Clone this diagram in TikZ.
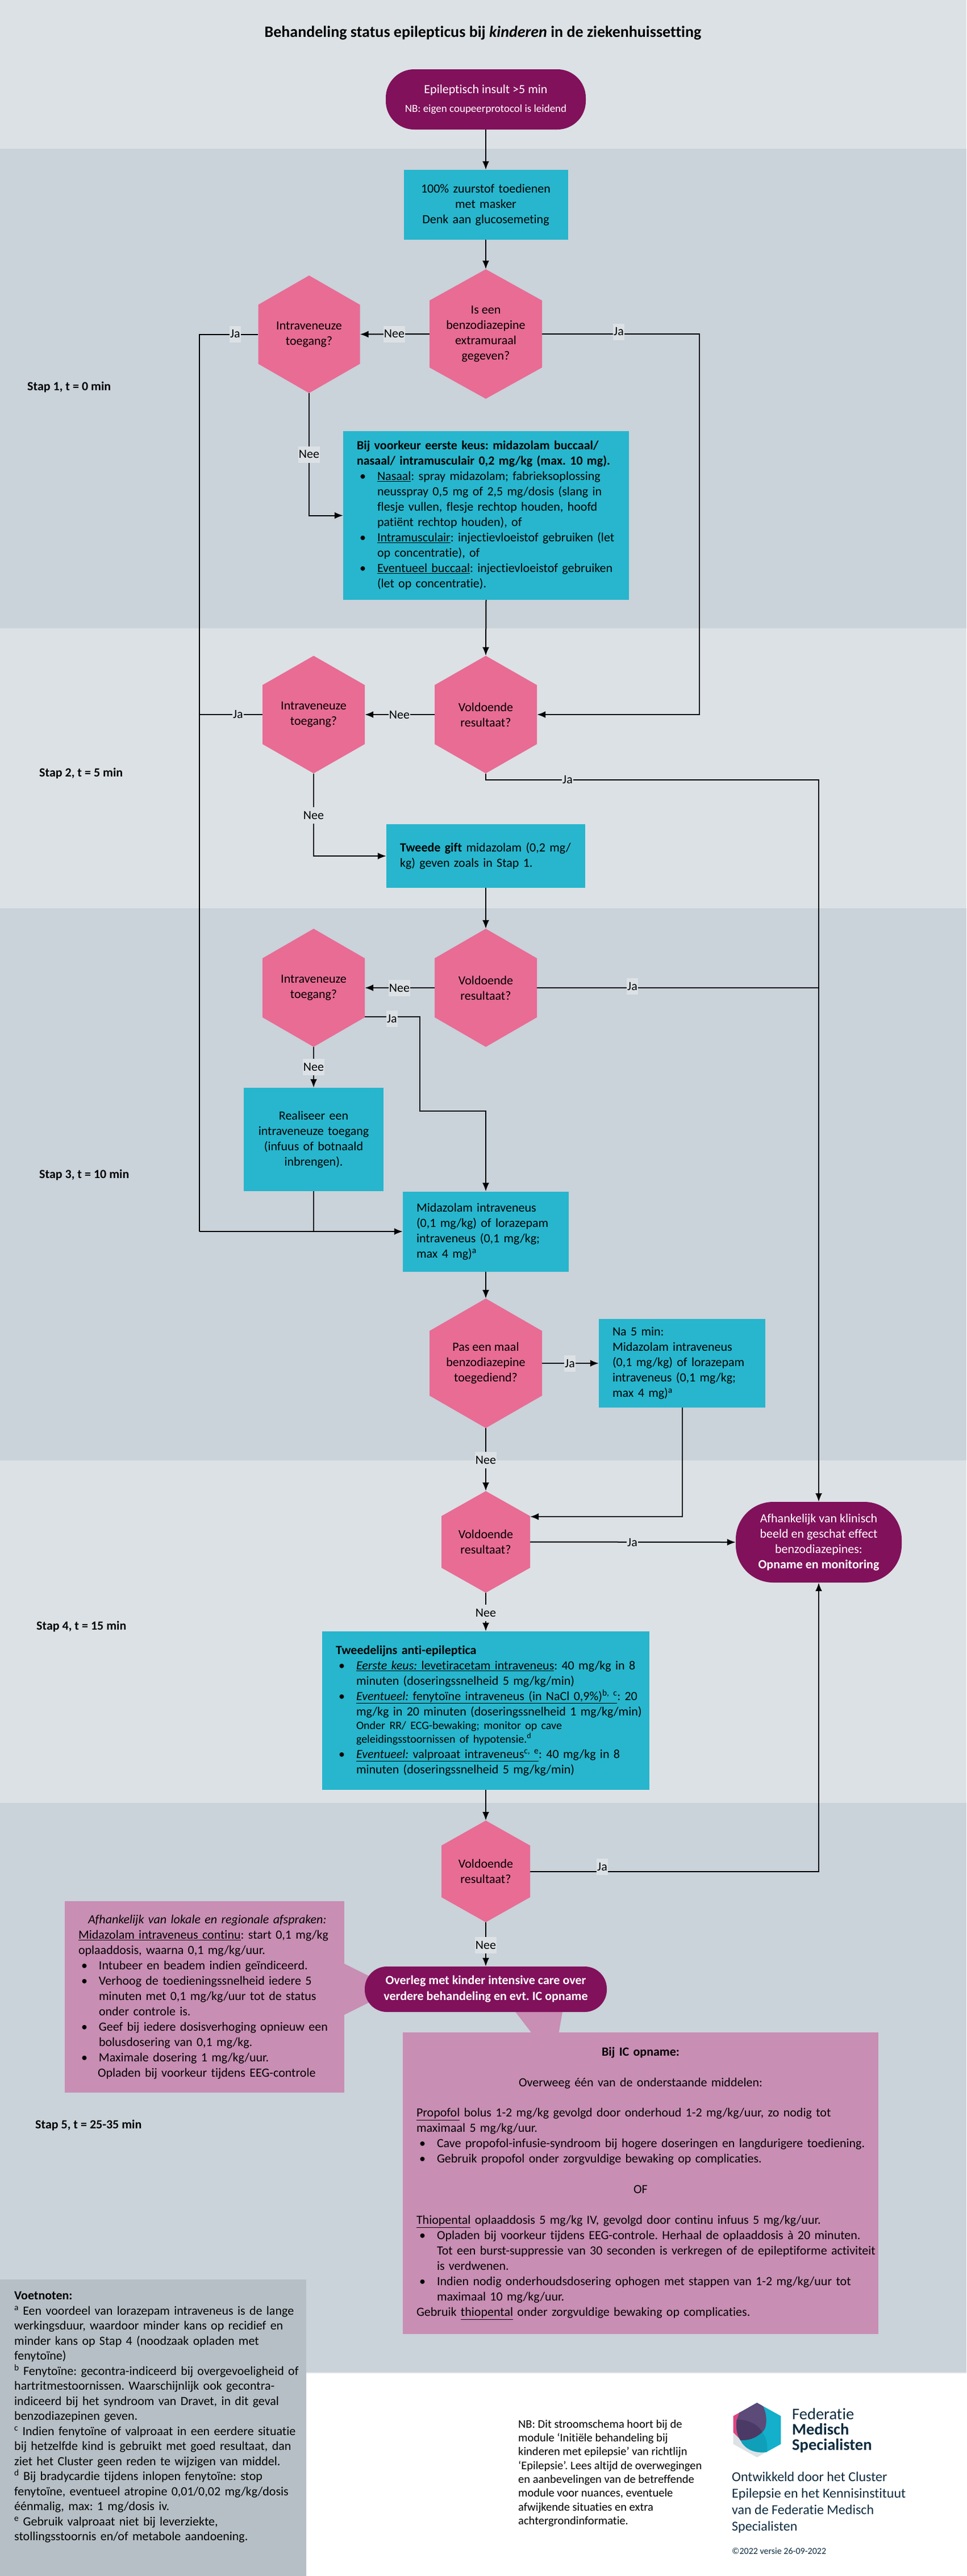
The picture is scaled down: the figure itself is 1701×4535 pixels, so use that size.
\documentclass[tikz,border=0pt]{standalone}
\usepackage{fontspec}
\setmainfont[Ligatures=NoCommon]{Carlito}
\usetikzlibrary{arrows.meta}
\definecolor{bandlight}{HTML}{DCE1E5}
\definecolor{banddark}{HTML}{CAD2DA}
\definecolor{boxteal}{HTML}{27B6CD}
\definecolor{hexpink}{HTML}{E86C94}
\definecolor{plum}{HTML}{81115B}
\definecolor{mauve}{HTML}{C88EB3}
\definecolor{notegrey}{HTML}{B6BFC5}
\definecolor{navy}{HTML}{0D2B3E}
\definecolor{logopink}{HTML}{E0457F}
\definecolor{logoteal}{HTML}{14AFCB}
\definecolor{logopurple}{HTML}{5C4A78}
\definecolor{logodark}{HTML}{4B3A66}
\definecolor{logodeep}{HTML}{0F9FB8}
\newcommand{\bl}{\makebox[36pt][l]{\hspace*{5pt}\textbullet}}
\newcommand{\hg}{\hspace*{36pt}}
\newcommand{\ctr}[1]{\makebox[\linewidth][c]{#1}}
\newcommand{\smalltxt}{\fontsize{20}{24}\selectfont}
\newcommand{\nowrap}{\rightskip=-40pt plus 1fil\relax\hyphenpenalty=10000\exhyphenpenalty=10000\relax}
\tikzset{
  txt/.style={font=\fontsize{22}{27}\selectfont,text=black},
  tealbox/.style={txt,fill=boxteal,inner ysep=0pt,inner xsep=24pt,execute at begin node=\nowrap},
  tealmid/.style={txt,fill=boxteal,inner ysep=0pt,inner xsep=24pt,align=center},
  mauvebox/.style={txt,fill=mauve,inner ysep=0pt,inner xsep=24pt,execute at begin node=\nowrap},
  term/.style={txt,text=white,fill=plum,align=center,inner sep=0pt},
  hexlabel/.style={txt,align=center,inner sep=0pt},
  hexshape/.style={fill=hexpink},
  lbl/.style={txt,fill=bandlight,inner xsep=1pt,inner ysep=0pt,minimum height=29pt},
  stap/.style={txt,font=\fontsize{22}{27}\selectfont\bfseries,anchor=west,inner sep=0pt},
  conn/.style={draw=black,line width=2pt},
  flow/.style={conn,-{Latex[length=15pt,width=12pt]}},
}
% name, cx, cy, half width, half height, shoulder offset, text
\newcommand{\hexnode}[7]{%
  \fill[hexshape] (#2,#3-#5) -- (#2+#4,#3-#6) -- (#2+#4,#3+#6) -- (#2,#3+#5)
     -- (#2-#4,#3+#6) -- (#2-#4,#3-#6) -- cycle;
  \node[hexlabel,minimum width=2*#4pt,minimum height=2*#5pt] (#1) at (#2,#3) {#7};
}
\begin{document}
\frenchspacing
\begin{tikzpicture}[x=1pt,y=-1pt]
\useasboundingbox (0,0) rectangle (1701,4535);
\fill[white] (0,0) rectangle (1701,4535);
% bands
\fill[bandlight] (0,0) rectangle (1701,262);
\fill[banddark]  (0,262) rectangle (1701,1106);
\fill[bandlight] (0,1106) rectangle (1701,1599);
\fill[banddark]  (0,1599) rectangle (1701,2571);
\fill[bandlight] (0,2571) rectangle (1701,3174);
\fill[banddark]  (0,3174) rectangle (1701,4176);
\fill[bandlight] (0,4176) rectangle (1701,4178);
\fill[notegrey]  (0,4013) rectangle (539,4535);
% callout pointers
\fill[mauve] (600,3454) -- (696,3502) -- (600,3550) -- cycle;
\fill[mauve] (898,3530) -- (992,3530) -- (983,3582) -- (938,3582) -- cycle;

\node[font=\fontsize{28}{32}\selectfont\bfseries,inner sep=0pt] (title) at (850,58)
  {Behandeling status epilepticus bij \textit{kinderen} in de ziekenhuissetting};

\node[term,minimum width=352pt,minimum height=106pt,rounded corners=50pt] (start) at (855,175)
  {Epileptisch insult >5 min\\[6pt]{\fontsize{19}{23}\selectfont NB: eigen coupeerprotocol is leidend}};

\node[tealmid,text width=241pt,minimum height=123pt] (box1) at (855,360.5)
  {100\% zuurstof toedienen\\met masker\\Denk aan glucosemeting};

\hexnode{hex1}{855}{588}{99}{114}{59}{Is een\\benzodiazepine\\extramuraal\\gegeven?}
\hexnode{hex2}{544}{588.5}{89.5}{103.5}{52}{Intraveneuze\\toegang?}

\node[tealbox,align=left,text width=455pt,minimum height=297pt] (box2) at (855.5,907.5)
  {\textbf{Bij voorkeur eerste keus: midazolam buccaal/}\\
   \textbf{nasaal/ intramusculair 0,2 mg/kg (max. 10 mg).}\\
   \bl\underline{Nasaal}: spray midazolam; fabrieksoplossing\\
   \hg neusspray 0,5 mg of 2,5 mg/dosis (slang in\\
   \hg flesje vullen, flesje rechtop houden, hoofd\\
   \hg patiënt rechtop houden), of\\
   \bl\underline{Intramusculair}: injectievloeistof gebruiken (let\\
   \hg op concentratie), of\\
   \bl\underline{Eventueel buccaal}: injectievloeistof gebruiken\\
   \hg (let op concentratie).};

\hexnode{hex3}{855}{1258}{90}{103.5}{52}{Voldoende\\resultaat?}
\hexnode{hex4}{552}{1258}{90}{103.5}{52}{Intraveneuze\\toegang?}

\node[tealbox,align=left,text width=302pt,minimum height=112pt] (box3) at (855,1507)
  {\textbf{Tweede gift} midazolam (0,2 mg/\\kg) geven zoals in Stap 1.};

\hexnode{hex5}{855}{1739}{90}{104}{52}{Voldoende\\resultaat?}
\hexnode{hex6}{552}{1739}{90}{104}{52}{Intraveneuze\\toegang?}

\node[tealmid,text width=198pt,minimum height=182pt] (box4) at (552,2006)
  {Realiseer een\\intraveneuze toegang\\(infuus of botnaald\\inbrengen).};

\node[tealbox,align=left,text width=244pt,minimum height=141pt] (box5) at (855,2168)
  {Midazolam intraveneus\\(0,1 mg/kg) of lorazepam\\intraveneus (0,1 mg/kg;\\max 4 mg)\textsuperscript{a}};

\hexnode{hex7}{855}{2400}{99}{114}{57}{Pas een maal\\benzodiazepine\\toegediend?}

\node[tealbox,align=left,text width=245pt,minimum height=156pt] (box6) at (1200.5,2400)
  {Na 5 min:\\Midazolam intraveneus\\(0,1 mg/kg) of lorazepam\\intraveneus (0,1 mg/kg;\\max 4 mg)\textsuperscript{a}};

\hexnode{hex8}{855}{2714.5}{78}{89.5}{45.5}{Voldoende\\resultaat?}

\node[term,minimum width=292pt,minimum height=142pt,rounded corners=66pt] (oval) at (1441,2715)
  {Afhankelijk van klinisch\\beeld en geschat effect\\benzodiazepines:\\\textbf{Opname en monitoring}};

\node[tealbox,align=left,text width=528pt,minimum height=279pt] (box7) at (855,3011.5)
  {\textbf{Tweedelijns anti-epileptica}\\
   \bl\underline{\textit{Eerste keus:} levetiracetam intraveneus}: 40 mg/kg in 8\\
   \hg minuten (doseringssnelheid 5 mg/kg/min)\\
   \bl\underline{\textit{Eventueel:} fenytoïne intraveneus (in NaCl 0,9\%)\textsuperscript{b, c}}: 20\\
   \hg mg/kg in 20 minuten (doseringssnelheid 1 mg/kg/min)\\[-3pt]
   \hg{\smalltxt Onder RR/ ECG-bewaking; monitor op cave}\\[-3pt]
   \hg{\smalltxt geleidingsstoornissen of hypotensie.\textsuperscript{d}}\\
   \bl\underline{\textit{Eventueel:} valproaat intraveneus\textsuperscript{c, e}}: 40 mg/kg in 8\\
   \hg minuten (doseringssnelheid 5 mg/kg/min)};

\hexnode{hex9}{855}{3294.5}{78}{89.5}{45.5}{Voldoende\\resultaat?}

\node[mauvebox,align=left,text width=444pt,minimum height=337pt] (calloutL) at (360,3515.5)
  {\hspace*{17pt}\textit{Afhankelijk van lokale en regionale afspraken:}\\
   \underline{Midazolam intraveneus continu}: start 0,1 mg/kg\\
   oplaaddosis, waarna 0,1 mg/kg/uur.\\
   \bl Intubeer en beadem indien geïndiceerd.\\
   \bl Verhoog de toedieningssnelheid iedere 5\\
   \hg minuten met 0,1 mg/kg/uur tot de status\\
   \hg onder controle is.\\
   \bl Geef bij iedere dosisverhoging opnieuw een\\
   \hg bolusdosering van 0,1 mg/kg.\\
   \bl Maximale dosering 1 mg/kg/uur.\\
   \hspace*{34pt}Opladen bij voorkeur tijdens EEG-controle};

\node[term,minimum width=426pt,minimum height=80pt,rounded corners=39pt,font=\fontsize{22}{28}\selectfont\bfseries] (overleg) at (855,3502)
  {Overleg met kinder intensive care over\\verdere behandeling en evt. IC opname};

\node[mauvebox,align=left,text width=789pt,minimum height=531pt] (calloutR) at (1127.5,3843.5)
  {\ctr{\textbf{Bij IC opname:}}\\[26.9pt]
   \ctr{Overweeg één van de onderstaande middelen:}\\[26.9pt]
   \underline{Propofol} bolus 1-2 mg/kg gevolgd door onderhoud 1-2 mg/kg/uur, zo nodig tot\\
   maximaal 5 mg/kg/uur.\\
   \bl Cave propofol-infusie-syndroom bij hogere doseringen en langdurigere toediening.\\
   \bl Gebruik propofol onder zorgvuldige bewaking op complicaties.\\[26.9pt]
   \ctr{OF}\\[26.9pt]
   \underline{Thiopental} oplaaddosis 5 mg/kg IV, gevolgd door continu infuus 5 mg/kg/uur.\\
   \bl Opladen bij voorkeur tijdens EEG-controle. Herhaal de oplaaddosis à 20 minuten.\\
   \hg Tot een burst-suppressie van 30 seconden is verkregen of de epileptiforme activiteit\\
   \hg is verdwenen.\\
   \bl Indien nodig onderhoudsdosering ophogen met stappen van 1-2 mg/kg/uur tot\\
   \hg maximaal 10 mg/kg/uur.\\
   Gebruik \underline{thiopental} onder zorgvuldige bewaking op complicaties.};

% step labels
\node[stap] (stap1) at (48,681) {Stap 1, t = 0 min};
\node[stap] (stap2) at (69,1361) {Stap 2, t = 5 min};
\node[stap] (stap3) at (69,2068) {Stap 3, t = 10 min};
\node[stap] (stap4) at (64,2863) {Stap 4, t = 15 min};
\node[stap] (stap5) at (62,3741) {Stap 5, t = 25-35 min};

% routing points
\coordinate (railL) at (351,2168);
\coordinate (railM) at (1231,1258);
\coordinate (railR) at (1441,1373);
\coordinate (hexsix) at (642,1790);
\coordinate (elbowA) at (739,1956);
\coordinate (elbowB) at (855,1956);
\coordinate (hexeight) at (933,2670);
\coordinate (elbowC) at (544,907.5);
\coordinate (elbowD) at (552,1507);
\coordinate (elbowE) at (855,1373);
\coordinate (joinF) at (552,2168);

% connectors
\draw[flow] (start.south) -- (box1.north);
\draw[flow] (box1.south) -- (hex1.north);
\draw[flow] (hex1.west) -- (hex2.east);
\draw[conn] (hex2.west) -- (railL |- hex2.west) -- (railL);
\draw[flow] (railL) -- (box5.west);
\draw[flow] (hex1.east) -- (railM |- hex1.east) -- (railM) -- (hex3.east);
\draw[flow] (hex2.south) -- (elbowC) -- (box2.west);
\draw[flow] (box2.south) -- (hex3.north);
\draw[flow] (hex3.west) -- (hex4.east);
\draw[conn] (hex4.west) -- (railL |- hex4.west);
\draw[flow] (hex3.south) -- (elbowE) -- (railR) -- (oval.north);
\draw[flow] (hex4.south) -- (elbowD) -- (box3.west);
\draw[flow] (box3.south) -- (hex5.north);
\draw[flow] (hex5.west) -- (hex6.east);
\draw[conn] (hex5.east) -- (railR |- hex5.east);
\draw[flow] (hex6.south) -- (box4.north);
\draw[flow] (hexsix) -- (hexsix -| elbowA) -- (elbowA) -- (elbowB) -- (box5.north);
\draw[conn] (box4.south) -- (joinF);
\draw[flow] (box5.south) -- (hex7.north);
\draw[flow] (hex7.east) -- (box6.west);
\draw[flow] (hex7.south) -- (hex8.north);
\draw[flow] (box6.south) -- (box6.south |- hexeight) -- (hexeight);
\draw[flow] (hex8.east) -- (oval.west);
\draw[flow] (hex8.south) -- (box7.north);
\draw[flow] (box7.south) -- (hex9.north);
\draw[flow] (hex9.east) -- (oval.south |- hex9.east) -- (oval.south);
\draw[flow] (hex9.south) -- (overleg.north);

% connector labels
\node[lbl] (l1) at (414,588) {Ja};
\node[lbl] (l2) at (694,588) {Nee};
\node[lbl] (l3) at (1089,584) {Ja};
\node[lbl] (l4) at (544,800) {Nee};
\node[lbl] (l5) at (419,1258) {Ja};
\node[lbl] (l6) at (703,1258) {Nee};
\node[lbl] (l7) at (999,1373) {Ja};
\node[lbl] (l8) at (552,1435) {Nee};
\node[lbl] (l9) at (703,1739) {Nee};
\node[lbl] (l10) at (1113,1736) {Ja};
\node[lbl] (l11) at (690,1793) {Ja};
\node[lbl] (l12) at (552,1878) {Nee};
\node[lbl] (l13) at (1003,2400) {Ja};
\node[lbl] (l14) at (855,2570) {Nee};
\node[lbl] (l15) at (1113,2715) {Ja};
\node[lbl] (l16) at (855,2839) {Nee};
\node[lbl] (l17) at (1060,3286) {Ja};
\node[lbl] (l18) at (855,3424) {Nee};

% footnotes
\node[txt,anchor=north west,align=left,text width=505pt,inner sep=0pt,execute at begin node=\nowrap] (notes) at (25,4034)
  {\textbf{Voetnoten:}\\[-0.5pt]
   \textsuperscript{a} Een voordeel van lorazepam intraveneus is de lange\\[-0.5pt]
   werkingsduur, waardoor minder kans op recidief en\\[-0.5pt]
   minder kans op Stap 4 (noodzaak opladen met\\[-0.5pt]
   fenytoïne)\\[-0.5pt]
   \textsuperscript{b} Fenytoïne: gecontra-indiceerd bij overgevoeligheid of\\[-0.5pt]
   hartritmestoornissen. Waarschijnlijk ook gecontra-\\[-0.5pt]
   indiceerd bij het syndroom van Dravet, in dit geval\\[-0.5pt]
   benzodiazepinen geven.\\[-0.5pt]
   \textsuperscript{c} Indien fenytoïne of valproaat in een eerdere situatie\\[-0.5pt]
   bij hetzelfde kind is gebruikt met goed resultaat, dan\\[-0.5pt]
   ziet het Cluster geen reden te wijzigen van middel.\\[-0.5pt]
   \textsuperscript{d} Bij bradycardie tijdens inlopen fenytoïne: stop\\[-0.5pt]
   fenytoïne, eventueel atropine 0,01/0,02 mg/kg/dosis\\[-0.5pt]
   éénmalig, max: 1 mg/dosis iv.\\[-0.5pt]
   \textsuperscript{e} Gebruik valproaat niet bij leverziekte,\\[-0.5pt]
   stollingsstoornis en/of metabole aandoening.};

% footer texts
\node[anchor=west,align=left,inner sep=0pt,font=\fontsize{20.5}{24.3}\selectfont] (nb) at (912,4354)
  {NB: Dit stroomschema hoort bij de\\module ‘Initiële behandeling bij\\kinderen met epilepsie’ van richtlijn\\‘Epilepsie’. Lees altijd de overwegingen\\en aanbevelingen van de betreffende\\module voor nuances, eventuele\\afwijkende situaties en extra\\achtergrondinformatie.};

% logo
\begin{scope}[shift={(1270,4210)},x=0.3333pt,y=-0.3333pt]
  \begin{scope}
    \clip (187,60) -- (313,130) -- (313,278) -- (187,348) -- (62,278) -- (62,130) -- cycle;
    \fill[bandlight] (40,40) rectangle (340,360);
    \fill[logopink] (50,110) -- (110,110) -- (110,262) -- (90,245) -- (50,205) -- cycle;
    \fill[logoteal] (187,40) -- (330,110) -- (330,300) -- (240,320)
      .. controls (170,330) and (120,300) .. (100,258)
      .. controls (80,230) and (75,190) .. (80,150) -- cycle;
    \fill[logopurple] (50,130) -- (187,50) -- (220,80)
      .. controls (240,120) and (245,190) .. (215,215)
      .. controls (180,250) and (140,260) .. (100,258)
      .. controls (80,230) and (75,190) .. (80,150) -- (95,110) -- cycle;
    \fill[logodark] (80,150) .. controls (130,145) and (190,170) .. (215,215)
      .. controls (180,250) and (140,260) .. (100,258)
      .. controls (80,230) and (75,190) .. (80,150) -- cycle;
    \fill[logodeep] (215,215) .. controls (235,240) and (245,280) .. (240,320)
      .. controls (170,330) and (120,300) .. (100,258)
      .. controls (140,260) and (180,250) .. (215,215) -- cycle;
  \end{scope}
\end{scope}
\node[anchor=west,align=left,inner sep=0pt,text=navy,font=\fontsize{28.5}{27}\selectfont] (logotext) at (1394,4279)
  {Federatie\\\textbf{Medisch}\\\textbf{Specialisten}};
\node[anchor=west,align=left,inner sep=0pt,text=navy,font=\fontsize{24}{29}\selectfont] (dev) at (1288,4405.5)
  {Ontwikkeld door het Cluster\\Epilepsie en het Kennisinstituut\\van de Federatie Medisch\\Specialisten};
\node[anchor=west,inner sep=0pt,text=navy,font=\fontsize{16}{19}\selectfont] (copy) at (1288,4491)
  {©2022 versie 26-09-2022};
\end{tikzpicture}
\end{document}
